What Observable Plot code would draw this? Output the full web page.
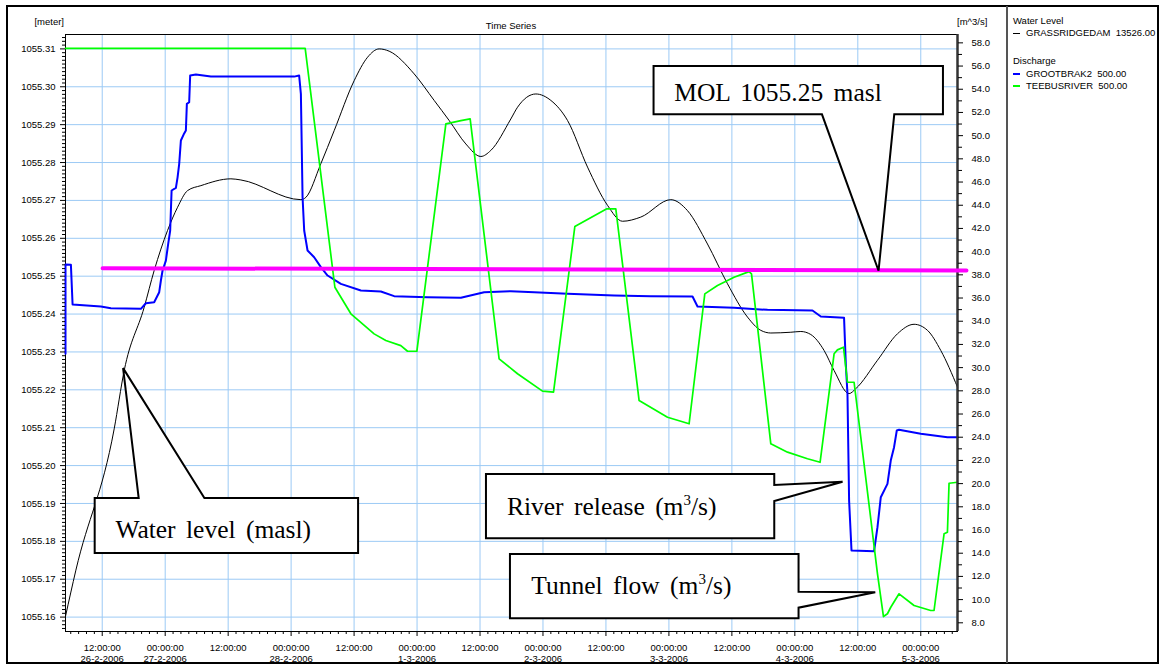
<!DOCTYPE html>
<html>
<head>
<meta charset="utf-8">
<script src="https://cdn.jsdelivr.net/npm/d3@7"></script>
<script src="https://cdn.jsdelivr.net/npm/@observablehq/plot@0.6"></script>
<style>
html, body { margin: 0; padding: 0; background: #fff; }
#page { position: relative; width: 1161px; height: 668px; overflow: hidden; background: #fff;
  font-family: "Liberation Sans", Arial, sans-serif; color: #000; }
#chart { position: absolute; left: 0; top: 0; }
.lbl { position: absolute; font-size: 9.5px; line-height: 12px; white-space: pre; }
#frameBox { position: absolute; left: 6px; top: 5px; width: 1153px; height: 659px; border: 2px solid #000; box-sizing: border-box; }
#divider { position: absolute; left: 1006px; top: 6px; width: 2px; height: 657px; background: #555; }
.dash { position: absolute; width: 7px; }
</style>
</head>
<body>
<div id="page">
  <div id="chart"></div>
  <div id="frameBox"></div>
  <div id="divider"></div>
  <div class="lbl" style="left:0px;width:64px;text-align:right;top:16px;">[meter]</div>
  <div class="lbl" style="left:65px;width:892px;text-align:center;top:20px;">Time Series</div>
  <div class="lbl" style="left:957px;top:16px;">[m^3/s]</div>
  <div id="legend"></div>
</div>
<script>
// ---------- data ----------
// time axis: hours after 26-2-2006 00:00
const xDomainHours = [5, 175];
const leftDomain = [1055.1562, 1055.3138];   // water level [meter]
const rightDomain = [7.25, 58.72];           // discharge [m^3/s]

const levelHours = [5.0, 6.98, 14.28, 16.19, 20.0, 21.9, 24.46, 26.36, 28.27, 30.8, 36.52, 38.42, 49.86, 50.81, 53.67, 56.2, 60.01, 62.57, 64.78, 66.68, 71.45, 75.26, 78.12, 81.3, 84.16, 86.06, 89.87, 91.15, 94.64, 97.5, 100.68, 104.49, 108.3, 111.16, 114.64, 120.36, 123.54, 127.35, 131.16, 134.98, 137.51, 139.42, 143.23, 145.14, 147.04, 149.57, 151.48, 154.34, 155.61, 159.75, 163.56, 166.72, 169.28, 171.81, 175.0];
const levelValues = [1055.1602, 1055.1724, 1055.2097, 1055.2251, 1055.2418, 1055.2515, 1055.2621, 1055.2682, 1055.2726, 1055.2739, 1055.2757, 1055.2754, 1055.2702, 1055.2708, 1055.2797, 1055.2884, 1055.3016, 1055.3078, 1055.31, 1055.3094, 1055.3034, 1055.2964, 1055.2911, 1055.2849, 1055.2816, 1055.2832, 1055.2915, 1055.2946, 1055.2981, 1055.2964, 1055.2911, 1055.2788, 1055.2687, 1055.2645, 1055.2656, 1055.2702, 1055.2673, 1055.2585, 1055.248, 1055.2392, 1055.2357, 1055.235, 1055.2352, 1055.2354, 1055.2346, 1055.2304, 1055.2251, 1055.219, 1055.2203, 1055.2278, 1055.2348, 1055.2373, 1055.2357, 1055.2304, 1055.2207];

const grootHours = [5.0, 5.0, 6.03, 6.35, 11.75, 13.65, 19.37, 20.32, 21.9, 22.86, 23.18, 23.5, 24.13, 24.57, 24.95, 25.22, 26.04, 26.36, 26.67, 26.99, 27.51, 27.94, 28.13, 28.57, 28.76, 29.85, 32.71, 48.58, 49.53, 49.86, 50.18, 50.49, 51.13, 52.39, 53.67, 54.95, 57.48, 61.29, 65.1, 67.64, 74.0, 80.35, 84.79, 89.87, 94.31, 100.68, 109.56, 116.55, 124.5, 125.45, 132.42, 138.79, 147.36, 148.95, 153.38, 153.71, 154.03, 154.34, 154.8, 159.1, 159.75, 160.38, 161.65, 162.28, 162.91, 163.43, 163.86, 168.0, 173.08, 175.0];
const grootValues = [31.19, 38.89, 38.86, 35.44, 35.27, 35.12, 35.07, 35.55, 35.64, 36.5, 37.51, 38.37, 39.23, 40.67, 41.82, 45.27, 45.5, 46.41, 47.57, 49.58, 50.09, 50.44, 52.74, 52.88, 55.18, 55.27, 55.09, 55.09, 55.18, 53.6, 44.69, 41.82, 40.1, 39.52, 38.66, 37.94, 37.22, 36.65, 36.56, 36.16, 36.07, 36.02, 36.5, 36.59, 36.5, 36.36, 36.22, 36.16, 36.13, 35.27, 35.16, 34.98, 34.92, 34.41, 34.29, 30.33, 27.74, 18.54, 14.23, 14.17, 16.24, 18.83, 19.98, 21.99, 23.14, 24.58, 24.64, 24.29, 24.0, 24.0];

const teebusHours = [5.0, 50.68, 56.34, 59.39, 63.82, 66.05, 68.91, 70.19, 71.96, 77.49, 80.35, 82.12, 87.64, 91.15, 95.91, 98.01, 102.07, 108.17, 109.88, 114.32, 119.73, 123.85, 126.84, 129.26, 132.42, 135.28, 135.74, 139.42, 142.6, 146.41, 148.81, 151.48, 152.12, 153.27, 154.03, 155.29, 159.75, 160.89, 161.65, 162.28, 163.86, 166.72, 169.9, 170.53, 172.44, 173.08, 173.39, 175.0];
const teebusValues = [57.53, 57.53, 36.93, 34.64, 32.91, 32.34, 31.9, 31.41, 31.41, 51.02, 51.3, 51.45, 30.76, 29.47, 27.97, 27.88, 42.16, 43.69, 43.69, 27.16, 25.72, 25.16, 36.36, 37.08, 37.79, 38.28, 38.09, 23.43, 22.71, 22.14, 21.84, 31.19, 31.53, 31.76, 28.74, 28.74, 12.22, 8.54, 8.78, 9.34, 10.5, 9.49, 9.06, 9.06, 15.67, 15.81, 20.03, 20.12];

const molHours = [12.07, 176.71];
const molValues = [1055.2521, 1055.2515];

const xTickHours = [12, 24, 36, 48, 60, 72, 84, 96, 108, 120, 132, 144, 156, 168];
const xTickTimes = ["12:00:00", "00:00:00", "12:00:00", "00:00:00", "12:00:00", "00:00:00", "12:00:00", "00:00:00", "12:00:00", "00:00:00", "12:00:00", "00:00:00", "12:00:00", "00:00:00"];
const dateTickHours = [12, 24, 48, 72, 96, 120, 144, 168];
const dateTickLabels = ["26-2-2006", "27-2-2006", "28-2-2006", "1-3-2006", "2-3-2006", "3-3-2006", "4-3-2006", "5-3-2006"];
const leftTicks = [1055.16, 1055.17, 1055.18, 1055.19, 1055.20, 1055.21, 1055.22, 1055.23, 1055.24, 1055.25, 1055.26, 1055.27, 1055.28, 1055.29, 1055.30, 1055.31];
const rightTicks = [8, 10, 12, 14, 16, 18, 20, 22, 24, 26, 28, 30, 32, 34, 36, 38, 40, 42, 44, 46, 48, 50, 52, 54, 56, 58];

const legendGroups = ["Water Level", "Discharge"];
const legendNames = ["GRASSRIDGEDAM  13526.00", "GROOTBRAK2  500.00", "TEEBUSRIVER  500.00"];

const calloutLabels = ["Water level (masl)", "MOL 1055.25 masl", "River release (m|3|/s)", "Tunnel flow (m|3|/s)"];
const calloutTipHours = [16.07, 160.05, 153.19, 159.42];
const calloutTipLevels = [1055.2256, 1055.2513, null, null];
const calloutTipFlows = [null, null, 20.12, 10.59];

// ---------- helpers ----------
const T0 = Date.UTC(2006, 1, 26);
const t = h => new Date(T0 + h * 3600e3);
const qToV = q => leftDomain[0] + (q - rightDomain[0]) * (leftDomain[1] - leftDomain[0]) / (rightDomain[1] - rightDomain[0]);
const vToQ = v => rightDomain[0] + (v - leftDomain[0]) * (rightDomain[1] - rightDomain[0]) / (leftDomain[1] - leftDomain[0]);

const level = levelHours.map((h, i) => ({t: t(h), v: levelValues[i]}));
const groot = grootHours.map((h, i) => ({t: t(h), v: qToV(grootValues[i])}));
const teebus = teebusHours.map((h, i) => ({t: t(h), v: qToV(teebusValues[i])}));
const mol = molHours.map((h, i) => ({t: t(h), v: molValues[i]}));

const leftMinor = d3.range(1055157, 1055314).filter(k => k % 10 !== 0).map(k => k / 1000);
const rightMinor = d3.range(9, 58, 2);
const minorX = d3.range(6, 174.01, 1.5).filter(h => h % 12 !== 0).map(t);

const timeLabel = new Map(xTickHours.map((h, i) => [+t(h), xTickTimes[i]]));
const dateLabel = new Map(dateTickHours.map((h, i) => [+t(h), dateTickLabels[i]]));

const gridColor = "#9ccaf5";

const chart = Plot.plot({
  width: 1007,
  height: 668,
  marginLeft: 65,
  marginRight: 50,
  marginTop: 34,
  marginBottom: 37,
  style: {fontFamily: "'Liberation Sans', Arial, sans-serif", fontSize: "9.5px", background: "transparent", color: "#000", overflow: "visible"},
  x: {type: "utc", domain: [t(xDomainHours[0]), t(xDomainHours[1])]},
  y: {domain: leftDomain},
  marks: [
    Plot.gridX(xTickHours.map(t), {stroke: gridColor, strokeOpacity: 1, strokeWidth: 1}),
    Plot.gridY(leftTicks, {stroke: gridColor, strokeOpacity: 1, strokeWidth: 1}),
    Plot.frame({stroke: "#000", strokeWidth: 1}),
    Plot.line(level, {x: "t", y: "v", stroke: "#000", strokeWidth: 1, curve: "monotone-x"}),
    Plot.line(groot, {x: "t", y: "v", stroke: "#0000ff", strokeWidth: 2}),
    Plot.line(teebus, {x: "t", y: "v", stroke: "#00ff00", strokeWidth: 1.7}),
    Plot.ruleX([t(xDomainHours[1])], {stroke: "#333", strokeWidth: 2.5}),
    Plot.line(mol, {x: "t", y: "v", stroke: "#ff00ff", strokeWidth: 4}),
    Plot.axisY(leftMinor, {anchor: "left", tickSize: 3, tickFormat: () => "", label: null}),
    Plot.axisY(leftTicks, {anchor: "left", tickSize: 5, tickPadding: 5, tickFormat: d => d.toFixed(2), label: null}),
    Plot.axisY(rightMinor.map(qToV), {anchor: "right", tickSize: 4, tickFormat: () => "", label: null}),
    Plot.axisY(rightTicks.map(qToV), {anchor: "right", tickSize: 5, tickPadding: 9, tickFormat: d => vToQ(d).toFixed(1), label: null}),
    Plot.axisX(minorX, {anchor: "bottom", tickSize: 3, tickFormat: () => "", label: null}),
    Plot.axisX(xTickHours.map(t), {anchor: "bottom", tickSize: 5, tickPadding: 7.7, tickFormat: d => timeLabel.get(+d), label: null}),
    Plot.axisX(dateTickHours.map(t), {anchor: "bottom", tickSize: 0, tickPadding: 23.5, tickFormat: d => dateLabel.get(+d), label: null})
  ]
});
document.getElementById("chart").appendChild(chart);

// ---------- callouts, positioned through the plot's scales ----------
const sx = chart.scale("x"), sy = chart.scale("y");
// layout of each callout box relative to its tip (pixels): [left, top, right, bottom], pointer base, text offset
const calloutLayout = [
  {side: "top", box: [-28.4, 130, 235, 185], base: [15.6, 81.3], text: [20.7, 39.4]},
  {side: "bottom", box: [-225, -204.7, 64.4, -156.4], base: [-56.6, 15.7], text: [20.7, 34.7]},
  {side: "right", box: [-356.6, -7.7, -68.3, 56.6], base: [3.3, 19.3], text: [21, 41]},
  {side: "right", box: [-365.3, -38.3, -76.7, 26], base: [-0.6, 15.4], text: [21.3, 40]}
];
const svg = d3.select(chart);
const g = svg.append("g").attr("text-anchor", "start");
calloutLabels.forEach((label, i) => {
  const tx = sx.apply(t(calloutTipHours[i]));
  const val = calloutTipLevels[i] != null ? calloutTipLevels[i] : qToV(calloutTipFlows[i]);
  const ty = sy.apply(val);
  const L = calloutLayout[i];
  const l = tx + L.box[0], tp = ty + L.box[1], r = tx + L.box[2], b = ty + L.box[3];
  let pts;
  if (L.side === "top") {
    pts = [[l, tp], [tx + L.base[0], tp], [tx, ty], [tx + L.base[1], tp], [r, tp], [r, b], [l, b]];
  } else if (L.side === "bottom") {
    pts = [[l, tp], [r, tp], [r, b], [tx + L.base[1], b], [tx, ty], [tx + L.base[0], b], [l, b]];
  } else {
    pts = [[l, tp], [r, tp], [r, ty + L.base[0]], [tx, ty], [r, ty + L.base[1]], [r, b], [l, b]];
  }
  g.append("path")
    .attr("d", "M" + pts.map(p => p.join(",")).join("L") + "Z")
    .attr("fill", "#fff").attr("stroke", "#000").attr("stroke-width", 2).attr("stroke-linejoin", "miter");
  const txt = g.append("text")
    .attr("x", l + L.text[0]).attr("y", tp + L.text[1])
    .attr("text-anchor", "start")
    .attr("font-family", "'Liberation Serif', 'Times New Roman', serif")
    .attr("font-size", 25.5).attr("word-spacing", 4).attr("fill", "#000");
  const parts = label.split("|");
  if (parts.length === 1) {
    txt.text(label);
  } else {
    txt.append("tspan").text(parts[0]);
    txt.append("tspan").attr("font-size", 15).attr("dy", -10).text(parts[1]);
    txt.append("tspan").attr("dy", 10).text(parts[2]);
  }
});

// ---------- legend ----------
const legend = document.getElementById("legend");
const legendRows = [
  {text: legendGroups[0], y: 15, color: null},
  {text: legendNames[0], y: 27, color: "#000", w: 1},
  {text: legendGroups[1], y: 55, color: null},
  {text: legendNames[1], y: 67.5, color: "#0000ff", w: 2},
  {text: legendNames[2], y: 80, color: "#00ff00", w: 2}
];
legendRows.forEach(row => {
  const d = document.createElement("div");
  d.className = "lbl";
  d.style.left = (row.color ? 1026 : 1013) + "px";
  d.style.top = row.y + "px";
  d.textContent = row.text;
  legend.appendChild(d);
  if (row.color) {
    const s = document.createElement("div");
    s.className = "dash";
    s.style.left = "1013px";
    s.style.top = (row.y + 6 - row.w / 2) + "px";
    s.style.height = row.w + "px";
    s.style.background = row.color;
    legend.appendChild(s);
  }
});
</script>
</body>
</html>
